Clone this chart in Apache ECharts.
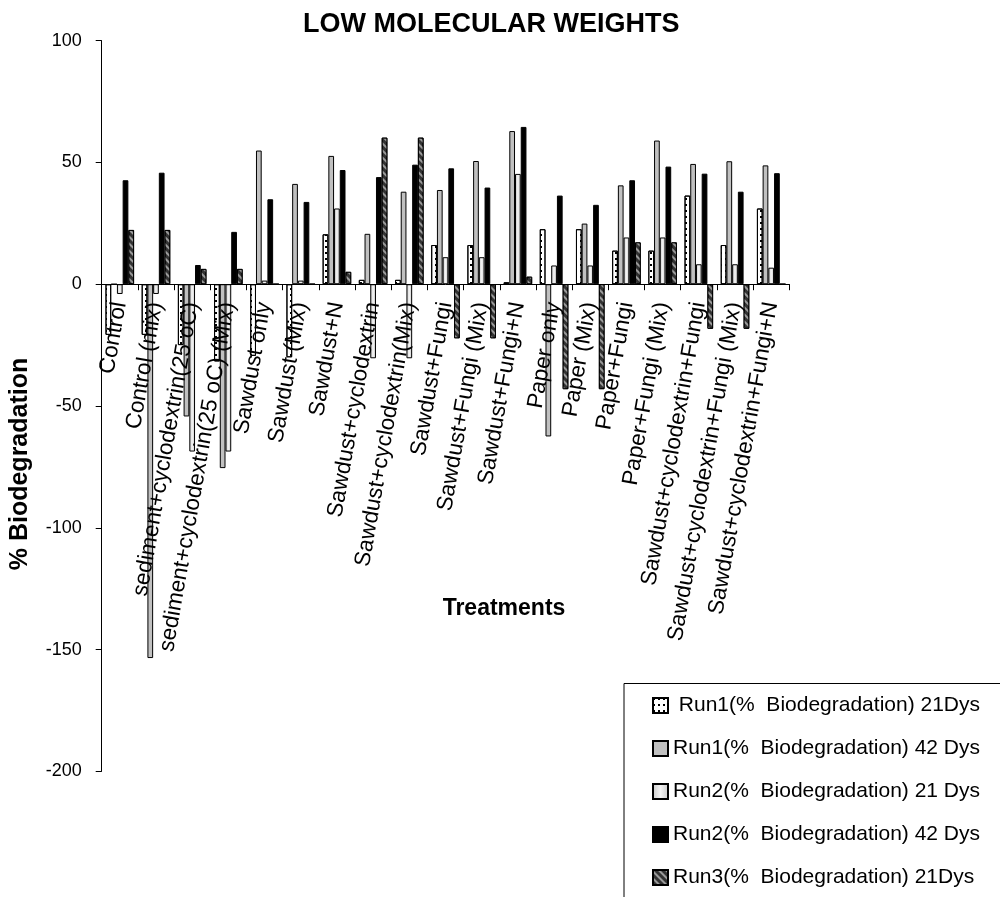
<!DOCTYPE html>
<html>
<head>
<meta charset="UTF-8">
<title>LOW MOLECULAR WEIGHTS</title>
<script src="https://cdn.jsdelivr.net/npm/echarts@6/dist/echarts.min.js"></script>
<style>
html,body{margin:0;padding:0;background:#fff;}
#chart{width:1000px;height:897px;}
</style>
</head>
<body>
<div id="chart"></div>
<script type="text/javascript">
// treatments on the x axis
var categories = ['Control', 'Control (mix)', 'sediment+cyclodextrin(25 oC)', 'sediment+cyclodextrin(25 oC) (Mix)',
    'Sawdust only', 'Sawdust (Mix)', 'Sawdust+N', 'Sawdust+cyclodextrin', 'Sawdust+cyclodextrin(Mix)',
    'Sawdust+Fungi', 'Sawdust+Fungi (Mix)', 'Sawdust+Fungi+N', 'Paper only', 'Paper (Mix)', 'Paper+Fungi',
    'Paper+Fungi (Mix)', 'Sawdust+cyclodextrin+Fungi', 'Sawdust+cyclodextrin+Fungi (Mix)', 'Sawdust+cyclodextrin+Fungi+N'];

// % biodegradation
var run1_21 = [-20.8, -20.8, -25, -31.7, -29.4, -30, 20.5, 1.8, 1.8, 16.1, 16.1, 0.8, 22.6, 22.6, 13.8, 13.8, 36.4, 16.1, 31.1];
var run1_42 = [0, -153.5, -54.3, -75.5, 54.9, 41.2, 52.7, 20.7, 38, 38.7, 50.6, 62.9, -62.5, 24.9, 40.6, 59, 49.4, 50.5, 48.8];
var run2_21 = [-4, -4, -68.7, -68.7, 1.5, 1.5, 31.1, -30.4, -30.4, 11.1, 11.1, 45.3, 7.7, 7.7, 19.2, 19.2, 8.2, 8.2, 6.8];
var run2_42 = [42.7, 45.8, 7.9, 21.5, 34.9, 33.8, 46.9, 44, 49.1, 47.6, 39.7, 64.6, 36.4, 32.6, 42.7, 48.3, 45.4, 38, 45.6];
var run3_21 = [22.3, 22.3, 6.3, 6.3, 0, 0, 5.1, 60.2, 60.2, -22.2, -22.2, 3.1, -43.1, -43.1, 17.2, 17.2, -18.3, -18.3, 0];

var seriesNames = [' Run1(%  Biodegradation) 21Dys', 'Run1(%  Biodegradation) 42 Dys',
    'Run2(%  Biodegradation) 21 Dys', 'Run2(%  Biodegradation) 42 Dys', 'Run3(%  Biodegradation) 21Dys'];

var yTicks = {min: -200, max: 100, interval: 50};

var font = 'Arial, "Liberation Sans", sans-serif';
var myChart = echarts.init(document.getElementById('chart'));

// plot area in pixels
var gTop = 40.7, gBottom = 125.7, plotH = 897 - gTop - gBottom;
// move the category axis up to the zero line
var zeroOffset = -plotH * (0 - yTicks.min) / (yTicks.max - yTicks.min);

function bar(name, data, style) {
    style.borderColor = '#000';
    style.borderWidth = 1;
    return {
        name: name,
        type: 'bar',
        data: data,
        barGap: '0%',
        barCategoryGap: '21%',
        itemStyle: style
    };
}

var option = {
    backgroundColor: '#fff',
    animation: false,
    textStyle: {fontFamily: font, color: '#000'},
    title: {
        text: 'LOW MOLECULAR WEIGHTS',
        left: 303,
        top: 11,
        padding: 0,
        textStyle: {fontSize: 27, fontWeight: 'bold', fontFamily: font, color: '#000'}
    },
    grid: {left: 101.7, right: 210.7, top: gTop, bottom: gBottom, outerBoundsMode: 'none', containLabel: false},
    legend: {
        orient: 'vertical',
        left: 622,
        top: 682,
        padding: [13, 20, 0, 30],
        itemGap: 22,
        itemWidth: 15,
        itemHeight: 15,
        icon: 'rect',
        textStyle: {fontSize: 21, fontFamily: font, color: '#000'},
        data: seriesNames
    },
    xAxis: {
        type: 'category',
        data: categories,
        z: 10,
        position: 'bottom',
        offset: zeroOffset,
        axisLine: {onZero: false, lineStyle: {color: '#000', width: 1}},
        axisTick: {show: true, length: 6, lineStyle: {color: '#000'}},
        axisLabel: {rotate: 80, margin: 18, interval: 0, fontSize: 22.5, color: '#000', fontFamily: font}
    },
    yAxis: {
        type: 'value',
        min: yTicks.min,
        max: yTicks.max,
        interval: yTicks.interval,
        splitLine: {show: false},
        axisLine: {show: true, lineStyle: {color: '#000', width: 1}},
        axisTick: {show: true, length: 6, lineStyle: {color: '#000'}},
        axisLabel: {margin: 20, fontSize: 18, color: '#000', fontFamily: font}
    },
    graphic: [
        {
            type: 'rect', left: 621.5, top: 681, z: -1,
            shape: {width: 420, height: 260},
            style: {fill: 'none', stroke: '#000', lineWidth: 1}
        },
        {
            type: 'text', x: 20, y: 464, rotation: Math.PI / 2,
            style: {text: '% Biodegradation', textAlign: 'center', textVerticalAlign: 'middle',
                font: 'bold 25px ' + font, fill: '#000'}
        },
        {
            type: 'text', x: 504, y: 609,
            style: {text: 'Treatments', textAlign: 'center', textVerticalAlign: 'middle',
                font: 'bold 23px ' + font, fill: '#000'}
        }
    ],
    series: [
        bar(seriesNames[0], run1_21, {
            color: '#fff',
            decal: {symbol: 'rect', symbolSize: 1, color: '#000', dashArrayX: [1.5, 3], dashArrayY: [1.5, 4]}
        }),
        bar(seriesNames[1], run1_42, {color: '#c0c0c0'}),
        bar(seriesNames[2], run2_21, {
            color: new echarts.graphic.LinearGradient(0, 0, 1, 0, [
                {offset: 0, color: '#c8c8c8'}, {offset: 0.5, color: '#f4f4f4'}, {offset: 1, color: '#c8c8c8'}
            ])
        }),
        bar(seriesNames[3], run2_42, {color: '#000'}),
        bar(seriesNames[4], run3_21, {
            color: '#333',
            decal: {symbol: 'rect', symbolSize: 1, color: '#9a9a9a', dashArrayX: [[1, 0]], dashArrayY: [2, 3], rotation: Math.PI / 4}
        })
    ]
};

myChart.setOption(option);
</script>
</body>
</html>
